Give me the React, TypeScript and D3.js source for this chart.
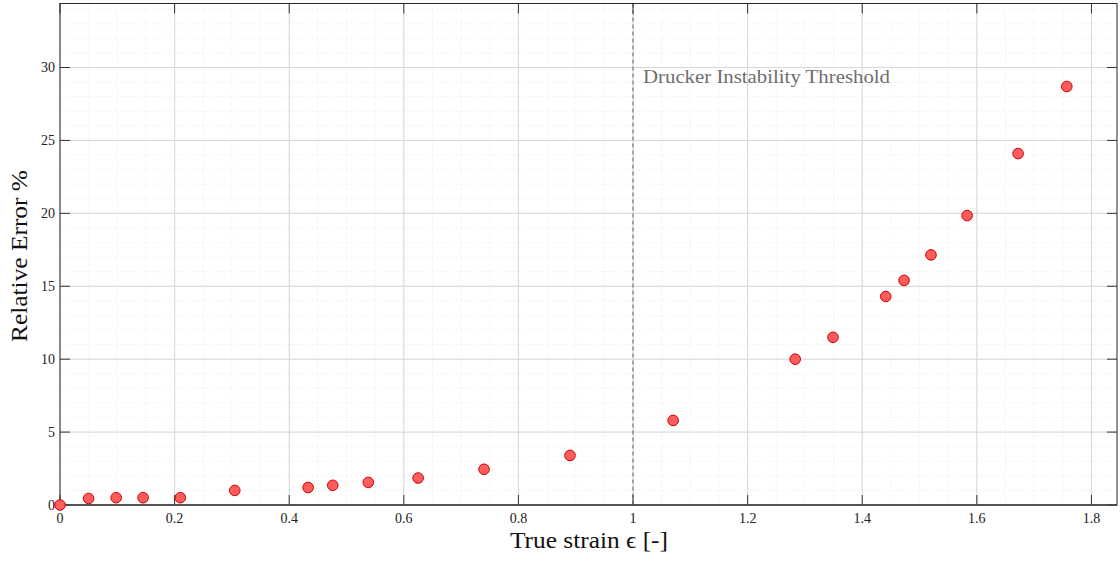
import React from "react";
import * as d3 from "d3";

const strain = [0, 0.05, 0.098, 0.145, 0.21, 0.305, 0.433, 0.476, 0.538, 0.625, 0.74, 0.89, 1.07, 1.283, 1.349, 1.441, 1.473, 1.52, 1.583, 1.672, 1.757];
const relErr = [0, 0.45, 0.5, 0.5, 0.5, 1.0, 1.2, 1.35, 1.55, 1.85, 2.45, 3.4, 5.8, 10.0, 11.5, 14.3, 15.4, 17.15, 19.85, 24.1, 28.7];
const xTicks = [0, 0.2, 0.4, 0.6, 0.8, 1, 1.2, 1.4, 1.6, 1.8];
const yTicks = [0, 5, 10, 15, 20, 25, 30];
const thresholdX = 1;
const annotation = "Drucker Instability Threshold";
const xLabel = "True strain \u03F5 [-]";
const yLabel = "Relative Error %";

const W = 1120, H = 561;
const L = 60, R = 1117, T = 3.5, B = 505;
const FONT = "'Liberation Serif', 'Times New Roman', serif";

export default function App() {
  const x = d3.scaleLinear().domain([0, 1.8446]).range([L, R]);
  const y = d3.scaleLinear().domain([0, 34.39]).range([B, T]);
  const xMinor = d3.range(0, 1.85, 0.05).map((v) => +v.toFixed(3)).filter((v) => x(v) <= R);
  const yMinor = d3.range(0, 35, 1).filter((v) => y(v) >= T);
  const tickLen = 10;
  const fmt = (v: number) => String(v);
  return (
    <svg width={W} height={H} style={{ position: "absolute", left: 0, top: 0, background: "#fff" }} fontFamily={FONT}>
      <rect x={0} y={0} width={W} height={H} fill="#fff" />
      {xMinor.map((v, i) => (
        <line key={"xm" + i} x1={x(v)} x2={x(v)} y1={T} y2={B} stroke="#e6e6e6" strokeWidth={0.8} strokeDasharray="1,2" />
      ))}
      {yMinor.map((v, i) => (
        <line key={"ym" + i} x1={L} x2={R} y1={y(v)} y2={y(v)} stroke="#e6e6e6" strokeWidth={0.8} strokeDasharray="1,2" />
      ))}
      {xTicks.map((v, i) => (
        <line key={"xg" + i} x1={x(v)} x2={x(v)} y1={T} y2={B} stroke="#d6d6d6" strokeWidth={1} />
      ))}
      {yTicks.map((v, i) => (
        <line key={"yg" + i} x1={L} x2={R} y1={y(v)} y2={y(v)} stroke="#d6d6d6" strokeWidth={1} />
      ))}
      <line x1={x(thresholdX)} x2={x(thresholdX)} y1={T} y2={B} stroke="#777" strokeWidth={1.2} strokeDasharray="4,3" />
      <text x={x(thresholdX) + 10} y={y(30) + 15} fontSize={18.5} fill="#6e6e6e" textLength={247} lengthAdjust="spacingAndGlyphs">{annotation}</text>
      {xTicks.map((v, i) => (
        <g key={"xt" + i}>
          <line x1={x(v)} x2={x(v)} y1={B} y2={B - tickLen} stroke="#333" strokeWidth={1} />
          <line x1={x(v)} x2={x(v)} y1={T} y2={T + tickLen} stroke="#333" strokeWidth={1} />
          <text x={x(v)} y={B + 18} fontSize={14} textAnchor="middle" fill="#222">{fmt(v)}</text>
        </g>
      ))}
      {yTicks.map((v, i) => (
        <g key={"yt" + i}>
          <line x1={L} x2={L + tickLen} y1={y(v)} y2={y(v)} stroke="#333" strokeWidth={1} />
          <line x1={R} x2={R - tickLen} y1={y(v)} y2={y(v)} stroke="#333" strokeWidth={1} />
          <text x={L - 5} y={y(v) + 4.5} fontSize={14} textAnchor="end" fill="#222">{fmt(v)}</text>
        </g>
      ))}
      <rect x={L} y={T} width={R - L} height={B - T} fill="none" stroke="#262626" strokeWidth={1} />
      <line x1={L} x2={R} y1={B} y2={B} stroke="#444" strokeWidth={1.5} />
      {strain.map((v, i) => (
        <circle key={"p" + i} cx={x(v)} cy={y(relErr[i])} r={5.3} fill="#ff5c5c" stroke="#d00000" strokeWidth={1} />
      ))}
      <text x={589} y={548} fontSize={24} textAnchor="middle" fill="#111" textLength={158} lengthAdjust="spacingAndGlyphs">{xLabel}</text>
      <text transform={`translate(27, 256) rotate(-90)`} fontSize={24} textAnchor="middle" fill="#111" textLength={172} lengthAdjust="spacingAndGlyphs">{yLabel}</text>
    </svg>
  );
}
